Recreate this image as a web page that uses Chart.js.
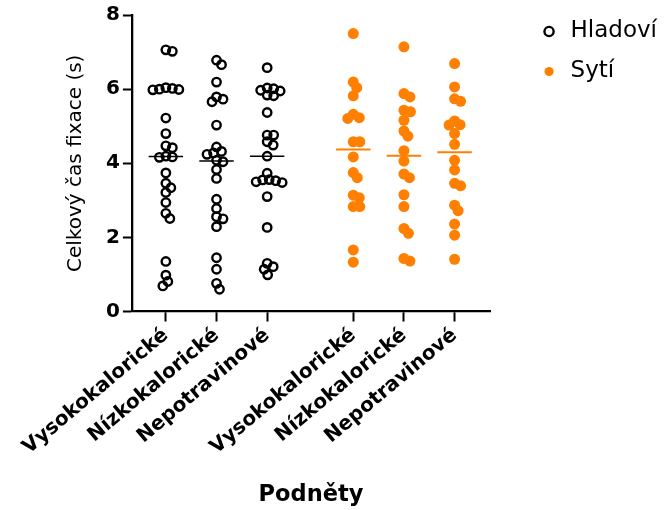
<!DOCTYPE html>
<html>
<head>
<meta charset="utf-8">
<script src="https://cdn.jsdelivr.net/npm/chart.js@4/dist/chart.umd.min.js"></script>
<style>
  html, body { margin: 0; padding: 0; background: #fff; }
  #wrap { width: 672px; height: 510px; }
</style>
</head>
<body>
<div id="wrap"><canvas id="chart"></canvas></div>
<script>
// values
const categories = ["Vysokokalorické", "Nízkokalorické", "Nepotravinové"];
const series = ["Hladoví", "Sytí"];

const hladoviVysoko = [7.06, 7.02, 6.04, 6.02, 6.0, 5.99, 5.98, 5.22, 4.80, 4.47, 4.42, 4.19, 4.17, 4.16,
  3.74, 3.46, 3.34, 3.21, 2.94, 2.65, 2.51, 1.35, 0.98, 0.81, 0.69];
const hladoviNizko = [6.78, 6.66, 6.19, 5.79, 5.73, 5.66, 5.03, 4.44, 4.32, 4.28, 4.24, 4.08, 4.04,
  3.83, 3.59, 3.03, 2.78, 2.56, 2.50, 2.29, 1.45, 1.14, 0.76, 0.60];
const hladoviNepotr = [6.58, 6.03, 6.01, 5.97, 5.95, 5.84, 5.82, 5.37, 4.76, 4.76, 4.58, 4.49, 4.19,
  3.73, 3.56, 3.55, 3.53, 3.50, 3.48, 3.10, 2.27, 1.30, 1.21, 1.14, 0.99];

const sytiVysoko = [7.50, 6.19, 6.04, 5.82, 5.32, 5.23, 5.21, 4.58, 4.58, 4.17, 3.75, 3.61, 3.14, 3.07,
  2.83, 2.83, 1.66, 1.33];
const sytiNizko = [7.14, 5.88, 5.79, 5.43, 5.39, 5.16, 4.87, 4.73, 4.34, 4.06, 3.71, 3.61, 3.15, 2.83,
  2.24, 2.11, 1.43, 1.36];
const sytiNepotr = [6.69, 6.06, 5.74, 5.67, 5.14, 5.04, 5.03, 4.80, 4.51, 4.08, 3.82, 3.46, 3.39, 2.87,
  2.72, 2.36, 2.06, 1.41];

const hladoviMedians = [4.18, 4.06, 4.19];
const sytiMedians = [4.37, 4.20, 4.30];

const yTicks = [0, 2, 4, 6, 8];
const tickLabels = categories.concat(categories);

// layout: where each column sits on the x axis (gap between the two groups)
const slots = [1, 2, 3, 4.7, 5.7, 6.7];
const halfLine = 0.34;
const legendGap = 32;
const orange = "#ff8000";

function points(groups, offset) {
  const out = [];
  groups.forEach((vals, g) => vals.forEach(v => out.push({ x: slots[offset + g], y: v, slot: slots[offset + g] })));
  return out;
}

function medianLine(meds, offset) {
  const out = [];
  meds.forEach((m, g) => {
    const s = slots[offset + g];
    out.push({ x: s - halfLine, y: m }, { x: s + halfLine, y: m }, { x: s + halfLine, y: null });
  });
  return out;
}

// leave some white space between the plot and the legend
const legendSpacer = {
  id: "legendSpacer",
  afterInit(chart) {
    const lg = chart.legend;
    const fit = lg.fit, draw = lg.draw;
    lg.fit = function () { fit.call(this); this.width += legendGap; };
    lg.draw = function () {
      this.ctx.save();
      this.ctx.translate(legendGap, 0);
      draw.call(this);
      this.ctx.restore();
    };
  },
};

Chart.defaults.font.family = '"DejaVu Sans", sans-serif';
Chart.defaults.color = "#000";

const ctx = document.getElementById("chart").getContext("2d");
const chart = new Chart(ctx, {
  type: "scatter",
  data: {
    datasets: [
      {
        label: series[0],
        data: points([hladoviVysoko, hladoviNizko, hladoviNepotr], 0),
        swarm: true,
        pointStyle: "circle",
        pointRadius: 4.2,
        pointBorderWidth: 2.4,
        pointBorderColor: "#000",
        pointBackgroundColor: "rgba(255,255,255,0)",
        borderColor: "#000",
        backgroundColor: "rgba(255,255,255,0)",
      },
      {
        label: series[1],
        data: points([sytiVysoko, sytiNizko, sytiNepotr], 3),
        swarm: true,
        pointStyle: "circle",
        pointRadius: 5.5,
        pointBorderWidth: 0,
        pointBackgroundColor: orange,
        borderColor: orange,
        backgroundColor: orange,
      },
      {
        type: "line",
        label: "median-h",
        data: medianLine(hladoviMedians, 0),
        borderColor: "#000",
        borderWidth: 1.5,
        pointRadius: 0,
        spanGaps: false,
      },
      {
        type: "line",
        label: "median-s",
        data: medianLine(sytiMedians, 3),
        borderColor: orange,
        borderWidth: 2,
        pointRadius: 0,
        spanGaps: false,
      },
    ],
  },
  options: {
    responsive: true,
    maintainAspectRatio: false,
    animation: false,
    layout: { padding: { left: 64, right: 5, top: 3, bottom: 1 } },
    plugins: {
      tooltip: { enabled: false },
      legend: {
        position: "right",
        align: "start",
        labels: {
          filter: item => item.datasetIndex < 2,
          usePointStyle: true,
          boxWidth: 20,
          boxHeight: 6.5,
          padding: 17,
          font: { size: 23 },
          color: "#000",
        },
      },
    },
    scales: {
      x: {
        type: "linear",
        min: 0.33,
        max: 7.4,
        afterBuildTicks: s => { s.ticks = slots.map(v => ({ value: v })); },
        ticks: {
          autoSkip: false,
          minRotation: 40,
          maxRotation: 40,
          padding: 2,
          font: { size: 20, weight: "bold" },
          callback: (v, i) => tickLabels[i],
        },
        grid: { drawOnChartArea: false, drawTicks: true, tickLength: 10, tickWidth: 2, tickColor: "#000" },
        border: { color: "#000", width: 2.3 },
        title: { display: true, text: "Podněty", font: { size: 22.5, weight: "bold" }, padding: { top: 20.5, bottom: 0 } },
      },
      y: {
        min: 0,
        max: 8,
        afterBuildTicks: s => { s.ticks = yTicks.map(v => ({ value: v })); },
        ticks: { padding: 3, font: { size: 20, weight: "bold" } },
        grid: { drawOnChartArea: false, drawTicks: true, tickLength: 9, tickWidth: 2, tickColor: "#000" },
        border: { color: "#000", width: 2.3 },
        title: { display: true, text: "Celkový čas fixace (s)", font: { size: 20 }, padding: { top: 0, bottom: 15 } },
      },
    },
  },
  plugins: [legendSpacer],
});

// spread overlapping points sideways, like a column scatter
function swarm(chart) {
  const xs = chart.scales.x, ys = chart.scales.y;
  const minDist = 6.5;
  chart.data.datasets.forEach(ds => {
    if (!ds.swarm) return;
    const bySlot = {};
    ds.data.forEach(p => (bySlot[p.slot] = bySlot[p.slot] || []).push(p));
    Object.values(bySlot).forEach(pts => {
      const placed = [];
      pts.slice().sort((a, b) => b.y - a.y).forEach(p => {
        const py = ys.getPixelForValue(p.y);
        let off = 0;
        for (let k = 0; k < 400; k++) {
          const c = (k % 2 ? 1 : -1) * Math.ceil(k / 2) * 0.5;
          if (placed.every(q => Math.hypot(q.x - c, q.y - py) >= minDist)) { off = c; break; }
        }
        placed.push({ x: off, y: py });
        p.x = xs.getValueForPixel(xs.getPixelForValue(p.slot) + off);
      });
    });
  });
  chart.update("none");
}
swarm(chart);
</script>
</body>
</html>
